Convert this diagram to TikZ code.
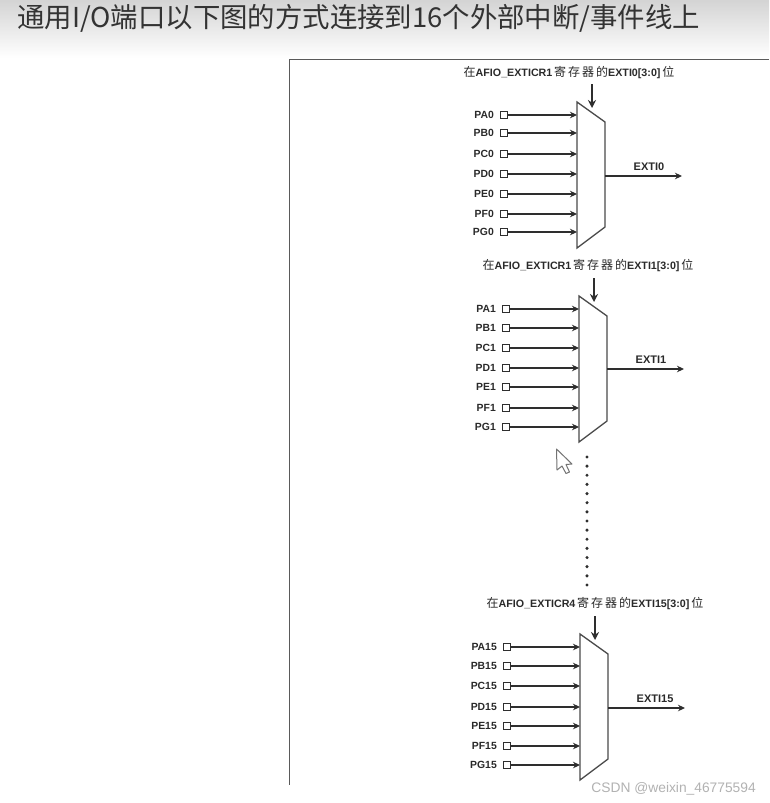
\documentclass[tikz,border=0pt]{standalone}
\usepackage{fontspec}
\setmainfont{Liberation Sans}
\newfontfamily\cjk{Noto Sans CJK SC}
\usetikzlibrary{arrows.meta}
\definecolor{ink}{HTML}{2A2A2A}
\definecolor{wire}{HTML}{2E2E2E}
\definecolor{muxline}{HTML}{4A4A4A}
\definecolor{framec}{HTML}{5A5A5A}
\tikzset{
  pinbox/.style={draw=wire,line width=1pt,fill=white,minimum size=7.8pt,inner sep=0pt,outer sep=0pt},
  pinlabel/.style={font=\bfseries\fontsize{10.4}{11}\selectfont,text=ink,anchor=east,inner sep=0pt},
  outlabel/.style={font=\bfseries\fontsize{11}{12}\selectfont,text=ink,anchor=west,inner sep=0pt},
  toplabel/.style={font=\bfseries\fontsize{10.7}{12}\selectfont,text=ink,inner sep=0pt},
  wirearrow/.style={draw=wire,line width=1.2pt,-{Stealth[length=7pt,width=6.5pt]}},
  ctrlarrow/.style={draw=wire,line width=1.6pt,-{Stealth[length=8pt,width=8pt]}},
  muxbody/.style={draw=muxline,line width=1.3pt,fill=white},
  framepath/.style={draw=framec,line width=0.9pt},
  dotline/.style={fill=wire,draw=none}
}
\newcommand{\toptext}[2]{{\cjk\mdseries\fontsize{12}{12}\selectfont 在}#1\,{\cjk\mdseries\fontsize{12}{12}\selectfont 寄\,存\,器\,的}#2\,{\cjk\mdseries\fontsize{12}{12}\selectfont 位}}
% #1 name, #2 left x, #3 top y, #4 suffix, #5 output label, #6 output y, #7 pin ys
\newcommand{\muxgroup}[7]{
  \coordinate (#1-a) at (#2,#3);
  \coordinate (#1-b) at (#2+28,#3+20);
  \coordinate (#1-c) at (#2+28,#3+125);
  \coordinate (#1-d) at (#2,#3+146);
  \path[muxbody] (#1-a) -- (#1-b) -- (#1-c) -- (#1-d) -- cycle;
  \coordinate (#1-ctop) at (#2+15,#3-18);
  \coordinate (#1-cend) at (#2+15,#3+6);
  \draw[ctrlarrow] (#1-ctop) -- (#1-cend);
  \coordinate (#1-os) at (#2+28,#6);
  \coordinate (#1-oe) at (#2+105,#6);
  \draw[wirearrow] (#1-os) -- (#1-oe);
  \node[outlabel] (#1-out) at (#2+56.5,#6-9) {#5};
  \foreach \L/\Y in {#7}{
    \node[pinbox] (#1-box\L) at (#2-73,\Y) {};
    \node[pinlabel] (#1-lab\L) at (#2-83,\Y) {P\L#4};
    \coordinate (#1-in\L) at (#2,\Y);
    \draw[wirearrow] (#1-box\L) -- (#1-in\L);
  }
}
\begin{document}
\begin{tikzpicture}[x=1pt,y=-1pt]
\useasboundingbox (0,0) rectangle (769,803);
\fill[white] (0,0) rectangle (769,803);
\shade[top color=black!17,bottom color=white] (0,0) rectangle (769,58);
\node[anchor=west,inner sep=0pt,text=black!80] (title) at (17,18.5)
  {\fontsize{27.4}{28}\selectfont\cjk 通用I/O端口以下图的方式连接到16个外部中断/事件线上};
\coordinate (fa) at (769,59);
\coordinate (fb) at (289,59);
\coordinate (fc) at (289,785);
\draw[framepath] (fa) -- (fb) -- (fc);

\muxgroup{m0}{577}{102}{0}{EXTI0}{176}{A/115,B/133,C/154,D/174,E/194,F/214,G/232}
\muxgroup{m1}{579}{296}{1}{EXTI1}{369}{A/309,B/328,C/348,D/368,E/387,F/408,G/427}
\muxgroup{m2}{580}{634}{15}{EXTI15}{708}{A/647,B/666,C/686,D/707,E/726,F/746,G/765}
\node[toplabel] (t0) at (569,73) {\toptext{AFIO\_EXTICR1}{EXTI0[3:0]}};
\node[toplabel] (t1) at (588,266) {\toptext{AFIO\_EXTICR1}{EXTI1[3:0]}};
\node[toplabel] (t2) at (595,604) {\toptext{AFIO\_EXTICR4}{EXTI15[3:0]}};

\foreach \i in {0,...,14}{
  \fill[dotline] (587,457+\i*9.14) circle (1.7pt);
}
% pointer
\draw[draw=black!55,line width=1pt,fill=white,line join=round]
  (556.5,449) -- (557,470) -- (562,466) -- (566,473.5) -- (569.5,472) -- (566,464.5) -- (572,464) -- cycle;
\node[anchor=east,inner sep=0pt,text=black!30,font=\fontsize{13.8}{14}\selectfont] (mark) at (756,789) {CSDN @weixin\_46775594};
\end{tikzpicture}
\end{document}
